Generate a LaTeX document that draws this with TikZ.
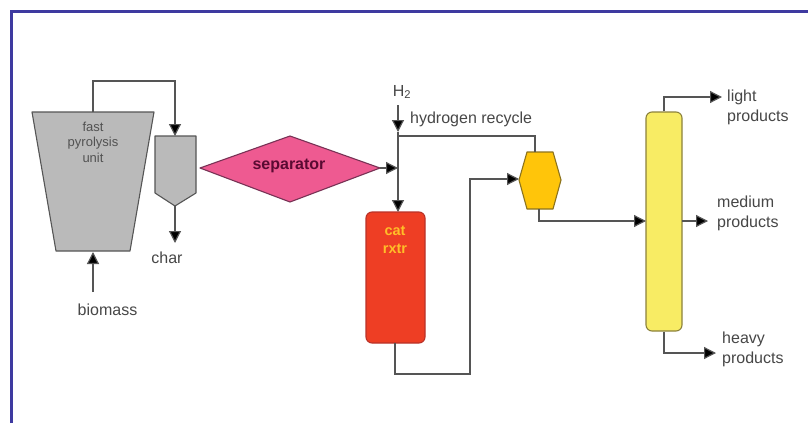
\documentclass[tikz,border=0pt]{standalone}
\usepackage{fontspec}
\setmainfont{Liberation Sans}
\usetikzlibrary{arrows.meta}
\definecolor{frame}{RGB}{62,58,160}
\definecolor{edge}{RGB}{85,85,85}
\definecolor{grayunit}{RGB}{186,186,186}
\definecolor{sepfill}{RGB}{238,90,145}
\definecolor{sepline}{RGB}{120,50,85}
\definecolor{septext}{RGB}{90,10,50}
\definecolor{rdrfill}{RGB}{238,62,36}
\definecolor{rdrline}{RGB}{185,50,40}
\definecolor{rdrtext}{RGB}{255,190,40}
\definecolor{hexfill}{RGB}{255,197,10}
\definecolor{hexline}{RGB}{140,115,30}
\definecolor{colfill}{RGB}{248,236,100}
\definecolor{colline}{RGB}{140,130,60}
\tikzset{
  x=1pt,y=-1pt,
  pipe/.style={draw=edge,line width=1.2pt},
  flow/.style={pipe,-{Triangle[length=12pt,width=12pt,fill=black]}},
  unit/.style={draw=edge,line width=1.1pt,line join=round},
  lbl/.style={font=\fontsize{16}{20}\selectfont,text=black!72,align=center,inner sep=0pt},
  small/.style={font=\fontsize{13}{15.5}\selectfont,text=black!68,align=center,inner sep=0pt},
  vessel/.style={unit,rounded corners=6pt}
}
\begin{document}
\begin{tikzpicture}
\useasboundingbox (0,0) rectangle (808,423);
\fill[white] (0,0) rectangle (808,423);
\draw[frame,line width=2.4pt] (11.5,423) -- (11.5,11.5) -- (808,11.5);
% free ends and junctions
\coordinate (h2top) at (398,105);
\coordinate (mixH) at (398,132);
\coordinate (mixS) at (398,168);
\coordinate (mixR) at (398,136);
\coordinate (bioend) at (93,292);
% units
\fill[grayunit,unit] (32,112) -- (154,112) -- (130,251) -- (56,251) -- cycle;
\coordinate (pyTop) at (93,112);
\coordinate (pyBot) at (93,252);
\node[small] (pyl) at (93,142) {fast\\pyrolysis\\unit};
\fill[grayunit,unit] (155,136) -- (196,136) -- (196,193) -- (175,206) -- (155,193) -- cycle;
\coordinate (cycTop) at (175,136);
\coordinate (cycBot) at (175,206);
\fill[sepfill,unit,draw=sepline] (200,168) -- (290,136) -- (380,168) -- (290,202) -- cycle;
\node[font=\bfseries\fontsize{16}{18}\selectfont,text=septext,inner sep=0pt] (sep) at (289,166) {separator};
\coordinate (sepR) at (380,168);
\node[vessel,draw=rdrline,fill=rdrfill,minimum width=59pt,minimum height=131pt,inner sep=0pt] (rdr) at (395.5,277.5) {};
\node[font=\bfseries\fontsize{14.5}{18}\selectfont,text=rdrtext,align=center,inner sep=0pt] (rl) at (395,240) {cat\\rxtr};
\coordinate (rdrTop) at (398,212);
\coordinate (rdrBot) at (395,343);
\fill[hexfill,unit,draw=hexline] (527,152) -- (553,152) -- (561,180) -- (553,209) -- (527,209) -- (519,180) -- cycle;
\coordinate (hexTop) at (535,152);
\coordinate (hexL) at (519,179);
\coordinate (hexBot) at (539,209);
\node[vessel,draw=colline,fill=colfill,minimum width=36pt,minimum height=219pt,inner sep=0pt] (col) at (664,221.5) {};
\coordinate (colL) at (646,221);
\coordinate (colR) at (682,221);
% labels
\node[lbl] (char) at (167,258) {char};
\node[lbl] (bio) at (107.5,310) {biomass};
\node[lbl] (h2) at (402,92) {H\textsubscript{2}};
\node[lbl,anchor=west] (rec) at (410,119) {hydrogen recycle};
\node[lbl,anchor=west,align=left] (light) at (727,107) {light\\products};
\node[lbl,anchor=west,align=left] (med) at (717,213) {medium\\products};
\node[lbl,anchor=west,align=left] (heavy) at (722,349) {heavy\\products};
\coordinate (lightA) at (722,97);
\coordinate (medA) at (708,221);
\coordinate (heavyA) at (716,353);
\coordinate (charA) at (175,243);
% connectors
\draw[flow] (pyTop) -- (93,81) -- (175,81) -- (cycTop);
\draw[flow] (cycBot) -- (charA);
\draw[flow] (bioend) -- (pyBot);
\draw[flow] (h2top) -- (mixH);
\draw[flow] (mixH) -- (rdrTop);
\draw[flow] (sepR) -- (mixS);
\draw[pipe] (mixR) -- (535,136) -- (hexTop);
\draw[flow] (rdrBot) -- (395,374) -- (470,374) -- (470,179) -- (hexL);
\draw[flow] (hexBot) -- (539,221) -- (colL);
\draw[flow] (col.north) -- (664,97) -- (lightA);
\draw[flow] (colR) -- (medA);
\draw[flow] (col.south) -- (664,353) -- (heavyA);
\end{tikzpicture}
\end{document}
